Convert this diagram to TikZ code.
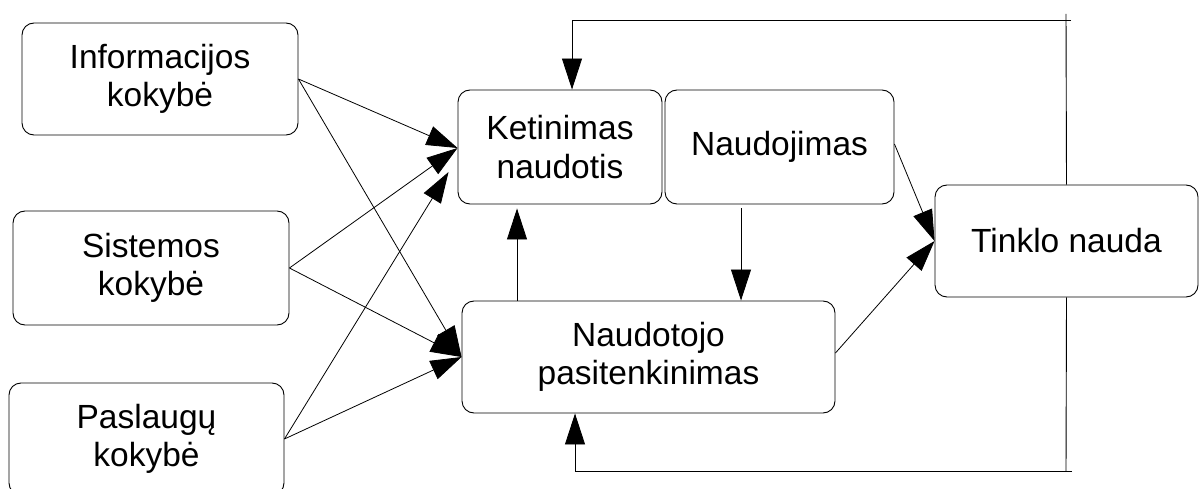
\documentclass[tikz,border=0pt]{standalone}
\usepackage{fontspec}
\setmainfont{Liberation Sans}
\usetikzlibrary{arrows.meta}
\begin{document}
\begin{tikzpicture}[x=1pt,y=1pt,
  box/.style={draw, line width=0.9pt, rounded corners=12pt, inner sep=0pt, align=center,
    font=\fontsize{33.5}{38.3}\selectfont},
  arr/.style={line width=0.8pt, -{Triangle[length=31pt,width=20pt]}},
  ln/.style={line width=0.9pt}]
\useasboundingbox (0,0) rectangle (1199,-489);
\clip (0,0) rectangle (1199,-489);
\node[box, minimum width=276pt, minimum height=112pt] (info) at (160,-79) {Informacijos\\kokybė};
\node[box, minimum width=276pt, minimum height=114pt] (sis) at (151,-268) {Sistemos\\kokybė};
\node[box, minimum width=275pt, minimum height=112pt] (pas) at (146.5,-439) {Paslaugų\\kokybė};
\node[box, minimum width=204pt, minimum height=114pt] (ket) at (560,-147) {Ketinimas\\naudotis};
\node[box, minimum width=229pt, minimum height=114pt] (nau) at (779.5,-147) {Naudojimas};
\node[box, minimum width=373pt, minimum height=112pt] (nst) at (648.5,-357) {Naudotojo\\pasitenkinimas};
\node[box, minimum width=263pt, minimum height=112pt] (tin) at (1066.5,-241) {Tinklo nauda};
\coordinate (tr) at (1071,-20);
\coordinate (tt) at (1066,-14);
\coordinate (br) at (1072,-471);
\coordinate (bb) at (1066,-471);
% inputs to Ketinimas
\draw[arr] (info.east) -- ([yshift=-1pt]ket.west);
\draw[arr] (sis.east) -- ([yshift=-1pt]ket.west);
\draw[arr] (pas.east) -- ([xshift=-9pt,yshift=-25pt]ket.west);
% inputs to Naudotojo
\draw[arr] (info.east) -- (nst.west);
\draw[arr] (sis.east) -- (nst.west);
\draw[arr] (pas.east) -- (nst.west);
% internal
\draw[arr, shorten >=4pt] ([xshift=-131.5pt]nst.north) -- ([xshift=-131.5pt]nst.north |- ket.south);
\draw[arr, shorten <=4pt] ([xshift=-38.5pt]nau.south) -- ([xshift=-38.5pt]nau.south |- nst.north);
\draw[arr] ([yshift=3pt]nau.east) -- (tin.west);
\draw[arr] ([yshift=4pt]nst.east) -- (tin.west);
% feedback loops
\draw[ln] (tt) -- (tin.north);
\draw[ln] (tin.south) -- (bb);
\draw[arr] (tr) -| ([xshift=12pt]ket.north);
\draw[arr] (br) -| ([xshift=-73.5pt]nst.south);
\end{tikzpicture}
\end{document}
